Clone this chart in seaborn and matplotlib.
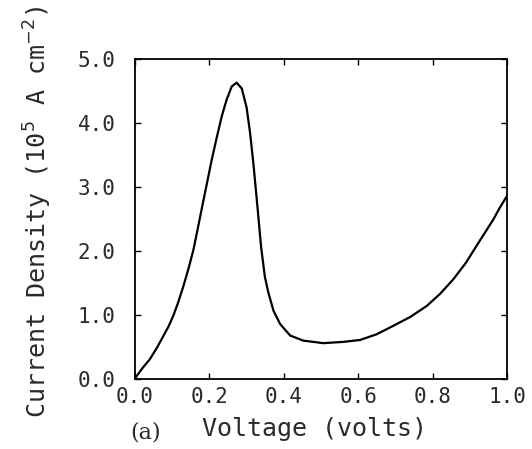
import matplotlib
matplotlib.use("Agg")
import matplotlib.pyplot as plt
import seaborn as sns
import pandas as pd

voltage = [0.0, 0.005, 0.02, 0.04, 0.06, 0.076, 0.09, 0.103, 0.115, 0.13,
           0.145, 0.157, 0.168, 0.179, 0.192, 0.206, 0.220, 0.233, 0.246, 0.260,
           0.273, 0.287, 0.300, 0.309, 0.318, 0.329, 0.339, 0.349, 0.358, 0.372,
           0.390, 0.417, 0.452, 0.506, 0.560, 0.605, 0.65, 0.694, 0.74, 0.784,
           0.82, 0.856, 0.89, 0.918, 0.94, 0.963, 0.98, 1.0]
current = [0.0, 0.05, 0.17, 0.31, 0.50, 0.67, 0.82, 0.99, 1.18, 1.45,
           1.75, 2.02, 2.33, 2.65, 3.02, 3.42, 3.78, 4.10, 4.36, 4.57,
           4.63, 4.54, 4.24, 3.86, 3.38, 2.70, 2.06, 1.60, 1.36, 1.07,
           0.86, 0.68, 0.60, 0.56, 0.58, 0.61, 0.70, 0.83, 0.97, 1.14,
           1.33, 1.56, 1.82, 2.08, 2.28, 2.49, 2.67, 2.86]
xticks = [0.0, 0.2, 0.4, 0.6, 0.8, 1.0]
yticks = [0.0, 1.0, 2.0, 3.0, 4.0, 5.0]

sns.set_theme(style="white")
plt.rcParams['font.family'] = ['DejaVu Sans Mono', 'DejaVu Sans']
plt.rcParams['mathtext.fontset'] = 'dejavusans'

df = pd.DataFrame({"V": voltage, "J": current})

fig = plt.figure(figsize=(5.32, 4.49), dpi=100)
ax = fig.add_axes([0.2538, 0.1559, 0.953 - 0.2538, 0.8686 - 0.1559])
sns.lineplot(data=df, x="V", y="J", ax=ax, color="black", linewidth=1.6,
             sort=False, solid_joinstyle="round")

ax.set_xlim(0, 1.0)
ax.set_ylim(0, 5.0)
ax.set_xticks(xticks)
ax.set_yticks(yticks)
ax.set_xticklabels([f"{t:.1f}" for t in xticks], fontsize=15, color="#2a2a2a")
ax.set_yticklabels([f"{t:.1f}" for t in yticks], fontsize=15, color="#2a2a2a")
ax.tick_params(axis="both", direction="in", length=4, width=1.0, color="black",
               top=True, right=True, bottom=True, left=True)
ax.tick_params(axis="x", pad=6)
ax.tick_params(axis="y", pad=14)
for s in ax.spines.values():
    s.set_visible(True)
    s.set_color("black")
    s.set_linewidth(1.3)

ax.set_xlabel("")
ax.set_ylabel("")
fig.text(0.072, 0.528, "Current Density (10$^5$ A cm$^{-2}$)", rotation=90,
         ha="center", va="center", fontsize=18, color="#2a2a2a")
fig.text(0.592, 0.045, "Voltage (volts)", ha="center", va="center",
         fontsize=18, color="#2a2a2a")
fig.text(0.274, 0.036, "(a)", ha="center", va="center", fontsize=16,
         family="DejaVu Serif", color="#2a2a2a")

fig.savefig("out.png", dpi=100, facecolor="white")
